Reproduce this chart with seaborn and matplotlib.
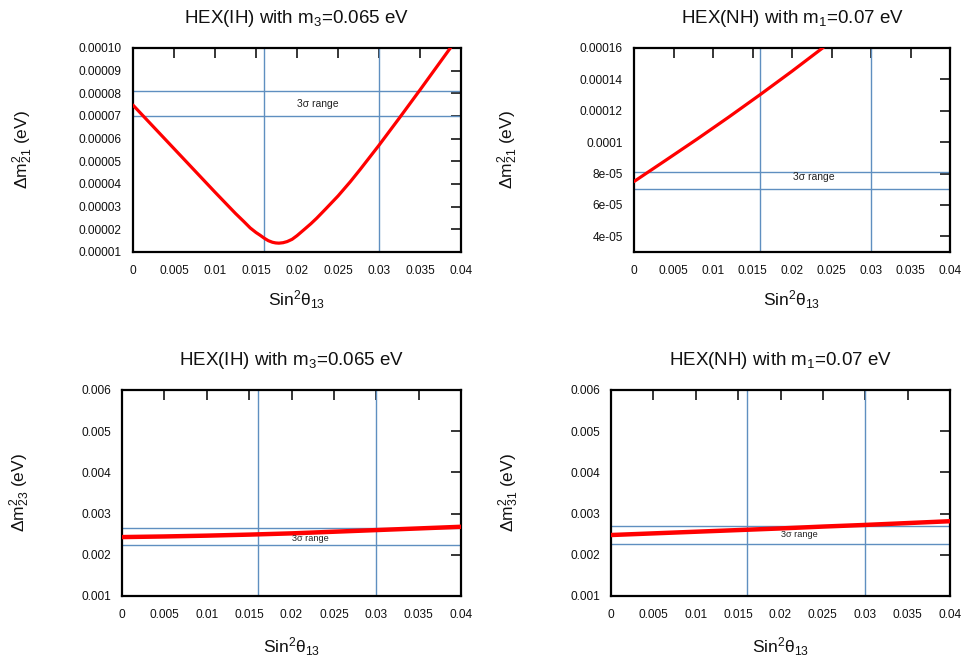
import matplotlib
matplotlib.use("Agg")
import matplotlib.pyplot as plt
import pandas as pd
import seaborn as sns

# ---- data -------------------------------------------------------------
# HEX(IH) with m3 = 0.065 eV : Delta m^2_21 versus sin^2(theta_13)
ih_s13 = [0.0, 0.0025, 0.005, 0.0075, 0.01, 0.0125, 0.0135, 0.0143, 0.015, 0.0155,
          0.016, 0.0165, 0.017, 0.0174, 0.0178, 0.0183, 0.0188, 0.0194, 0.02, 0.021,
          0.0217, 0.0224, 0.0235, 0.025, 0.0265, 0.0277, 0.03, 0.0325, 0.035,
          0.0375, 0.039]
ih_dm21 = [7.48e-5, 6.52e-5, 5.56e-5, 4.60e-5, 3.64e-5, 2.70e-5, 2.35e-5, 2.06e-5,
           1.86e-5, 1.74e-5, 1.61e-5, 1.50e-5, 1.43e-5, 1.40e-5, 1.39e-5, 1.41e-5,
           1.46e-5, 1.56e-5, 1.72e-5, 2.03e-5, 2.25e-5, 2.49e-5, 2.90e-5, 3.47e-5,
           4.10e-5, 4.64e-5, 5.71e-5, 6.92e-5, 8.15e-5, 9.40e-5, 1.015e-4]

# HEX(NH) with m1 = 0.07 eV : Delta m^2_21 versus sin^2(theta_13)
nh_s13 = [0.0, 0.004, 0.008, 0.012, 0.016, 0.02, 0.024]
nh_dm21 = [7.49e-5, 8.84e-5, 1.020e-4, 1.160e-4, 1.304e-4, 1.452e-4, 1.605e-4]

# atmospheric splittings for both hierarchies
s13_grid = [0.0, 0.005, 0.01, 0.015, 0.02, 0.025, 0.03, 0.035, 0.04]
ih_dm23 = [2.430e-3, 2.445e-3, 2.465e-3, 2.490e-3, 2.520e-3, 2.560e-3, 2.600e-3,
           2.640e-3, 2.680e-3]
nh_dm31 = [2.480e-3, 2.520e-3, 2.560e-3, 2.600e-3, 2.640e-3, 2.685e-3, 2.725e-3,
           2.770e-3, 2.815e-3]

# 3 sigma ranges
s13_range = [0.016, 0.03]
dm21_range = [7.0e-5, 8.1e-5]
dm23_ih_range = [2.24e-3, 2.65e-3]
dm31_nh_range = [2.27e-3, 2.69e-3]

# ticks
x_ticks = [0.0, 0.005, 0.01, 0.015, 0.02, 0.025, 0.03, 0.035, 0.04]
x_tick_labels = ["0", "0.005", "0.01", "0.015", "0.02", "0.025", "0.03", "0.035", "0.04"]
tl_y_ticks = [1e-5, 2e-5, 3e-5, 4e-5, 5e-5, 6e-5, 7e-5, 8e-5, 9e-5, 1e-4]
tl_y_tick_labels = ["0.00001", "0.00002", "0.00003", "0.00004", "0.00005",
                    "0.00006", "0.00007", "0.00008", "0.00009", "0.00010"]
tr_y_ticks = [4e-5, 6e-5, 8e-5, 1e-4, 1.2e-4, 1.4e-4, 1.6e-4]
tr_y_tick_labels = ["4e-05", "6e-05", "8e-05", "0.0001", "0.00012", "0.00014", "0.00016"]
atm_y_ticks = [0.001, 0.002, 0.003, 0.004, 0.005, 0.006]
atm_y_tick_labels = ["0.001", "0.002", "0.003", "0.004", "0.005", "0.006"]

title_ih = "HEX(IH) with m$_3$=0.065 eV"
title_nh = "HEX(NH) with m$_1$=0.07 eV"
x_label = r"Sin$^2\theta_{13}$"

# ---- style ------------------------------------------------------------
sns.set_theme(style="white")
plt.rcParams["font.family"] = ["Liberation Sans", "DejaVu Sans"]
plt.rcParams["mathtext.fontset"] = "custom"
plt.rcParams["mathtext.rm"] = "Liberation Sans"
plt.rcParams["mathtext.it"] = "Liberation Sans"
plt.rcParams["mathtext.bf"] = "Liberation Sans:bold"
plt.rcParams["mathtext.sf"] = "Liberation Sans"

BLUE = "#5f8fc0"
RED = "#ff0000"

fig = plt.figure(figsize=(9.66, 6.58), dpi=100)
W, H = 966.0, 658.0


def add_axes(left, top, right, bottom):
    return fig.add_axes([left / W, 1 - bottom / H, (right - left) / W, (bottom - top) / H])


def panel(ax, xs, ys, ylim, yticks, yticklabels, xr, yr, title, ylabel,
          label_xy, note_size, lw, ylabel_x, xlabel_y):
    df = pd.DataFrame({"s13": xs, "dm": ys})
    for v in xr:
        ax.axvline(v, color=BLUE, lw=1.0, zorder=2)
    for v in yr:
        ax.axhline(v, color=BLUE, lw=1.0, zorder=2)
    sns.lineplot(data=df, x="s13", y="dm", ax=ax, color=RED, lw=lw,
                 sort=False, estimator=None, zorder=3)
    ax.text(label_xy[0], label_xy[1], "3σ range", fontsize=note_size,
            ha="center", va="center", color="#222222", zorder=4)
    ax.set_xlim(0, 0.04)
    ax.set_ylim(*ylim)
    ax.set_xticks(x_ticks)
    ax.set_xticklabels(x_tick_labels)
    ax.set_yticks(yticks)
    ax.set_yticklabels(yticklabels)
    ax.tick_params(direction="in", length=7, width=1.1, color="black",
                   top=True, right=True, labelsize=8.6, labelcolor="#111111")
    ax.tick_params(axis="x", pad=9)
    ax.tick_params(axis="y", pad=8)
    for sp in ax.spines.values():
        sp.set_color("black")
        sp.set_linewidth(1.6)
    ax.set_title(title, fontsize=13.5, pad=18, color="#111111")
    ax.set_xlabel(x_label, fontsize=12.5, color="#111111")
    ax.xaxis.set_label_coords(0.5, xlabel_y)
    ax.set_ylabel(ylabel, fontsize=12.5, color="#111111")
    ax.yaxis.set_label_coords(ylabel_x, 0.5)
    ax.grid(False)


ax_tl = add_axes(133, 48, 461, 252)
ax_tr = add_axes(634, 48, 950, 252)
ax_bl = add_axes(122, 390, 461, 596)
ax_br = add_axes(611, 390, 950, 596)

panel(ax_tl, ih_s13, ih_dm21, (1e-5, 1e-4), tl_y_ticks, tl_y_tick_labels,
      s13_range, dm21_range, title_ih, r"$\Delta$m$^2_{21}$ (eV)",
      (0.0225, 7.55e-5), 7.5, 2.3, -0.300, -0.18)
panel(ax_tr, nh_s13, nh_dm21, (3e-5, 1.6e-4), tr_y_ticks, tr_y_tick_labels,
      s13_range, dm21_range, title_nh, r"$\Delta$m$^2_{21}$ (eV)",
      (0.0227, 7.75e-5), 7.5, 2.3, -0.360, -0.18)
panel(ax_bl, s13_grid, ih_dm23, (0.001, 0.006), atm_y_ticks, atm_y_tick_labels,
      s13_range, dm23_ih_range, title_ih, r"$\Delta$m$^2_{23}$ (eV)",
      (0.0222, 0.0024), 6.6, 3.2, -0.266, -0.19)
panel(ax_br, s13_grid, nh_dm31, (0.001, 0.006), atm_y_ticks, atm_y_tick_labels,
      s13_range, dm31_nh_range, title_nh, r"$\Delta$m$^2_{31}$ (eV)",
      (0.0222, 0.0025), 6.6, 3.2, -0.266, -0.19)

fig.savefig("out.png", dpi=100)
